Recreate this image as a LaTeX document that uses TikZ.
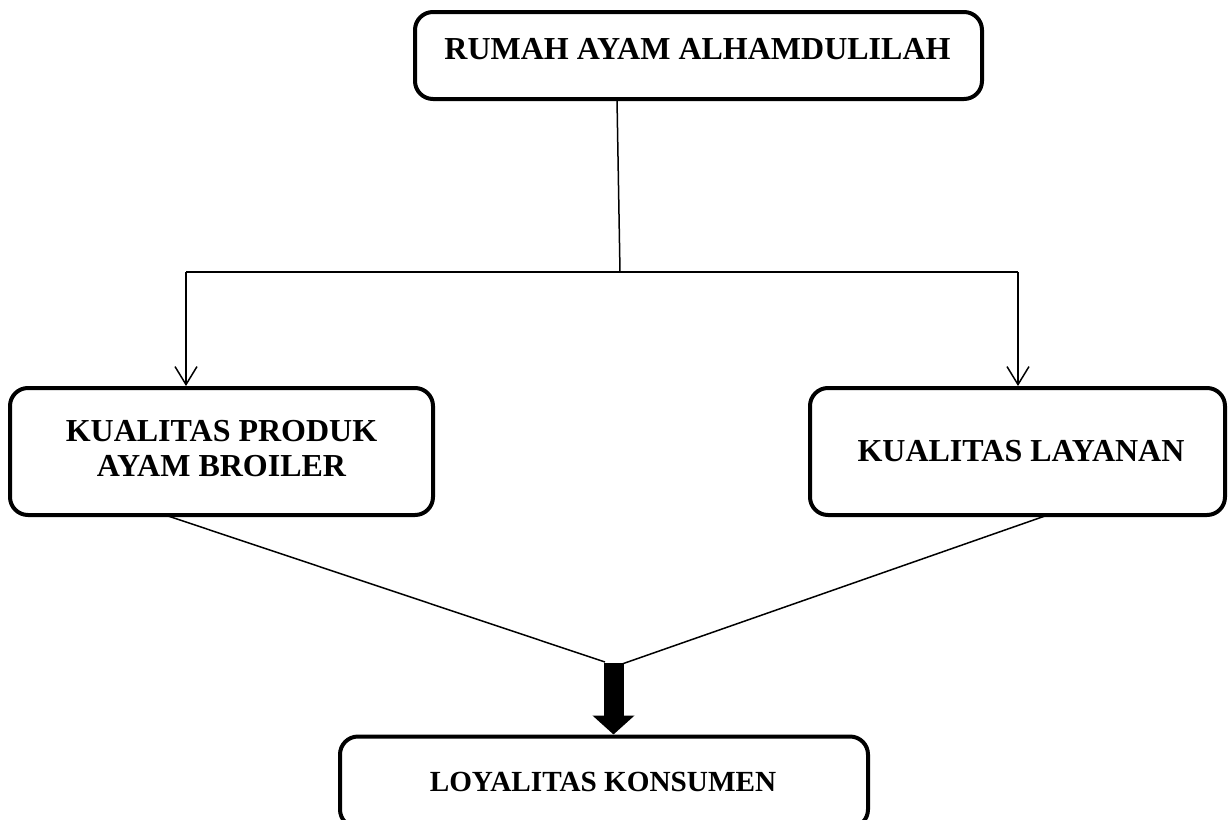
\documentclass[tikz,border=0pt]{standalone}
\usepackage{fontspec}
\setmainfont{Liberation Serif}
\usetikzlibrary{arrows.meta}
\begin{document}
\begin{tikzpicture}[x=0.5pt,y=-0.5pt,
  box/.style={draw, line width=2pt, rounded corners=9pt, inner sep=0pt},
  lbl/.style={font=\fontsize{16}{17.5}\selectfont\bfseries, inner sep=0pt, align=center},
  lblsmall/.style={lbl, font=\fontsize{14.6}{17.5}\selectfont\bfseries},
  thin/.style={line width=0.75pt},
  barb/.style={thin, -{Straight Barb[length=9pt,width=11pt]}},
  bigarrow/.style={line width=10pt, -{Triangle[length=9.5pt,width=20.5pt]}},
]
\useasboundingbox (0,0) rectangle (1228,820);
\clip (0,0) rectangle (1228,820);
% boxes
\node[box, minimum width=283.5pt, minimum height=43.5pt] (top) at (698.5,55.5) {};
\node[box, minimum width=211.5pt, minimum height=63.5pt] (left) at (221.5,451.5) {};
\node[box, minimum width=207.5pt, minimum height=63.5pt] (right) at (1017.5,451.5) {};
\node[box, minimum width=264pt, minimum height=45.5pt] (bot) at (604,782) {};
% labels
\node[lbl] (ttop) at (697.5,49) {RUMAH AYAM ALHAMDULILAH};
\node[lbl] (tleft) at (221.5,448.5) {KUALITAS PRODUK\\AYAM BROILER};
\node[lbl] (tright) at (1021,451) {KUALITAS LAYANAN};
\node[lblsmall] (tbot) at (603,782) {LOYALITAS KONSUMEN};
% connector points
\coordinate (ts) at (617,99);
\coordinate (j) at (620,272);
\coordinate (la) at (186,272);
\coordinate (ra) at (1018,272);
\coordinate (ls) at (162,514);
\coordinate (rs) at (1045,516);
\coordinate (ah) at (613.5,663);
% connectors
\draw[thin] (ts) -- (j);
\draw[thin] (la) -- (ra);
\draw[barb] (la) -- (la |- left.north);
\draw[barb] (ra) -- (ra |- right.north);
\draw[thin] (ls) -- (605,662);
\draw[thin] (rs) -- (622,664);
\draw[bigarrow] (ah) -- (ah |- bot.north);
\end{tikzpicture}
\end{document}
